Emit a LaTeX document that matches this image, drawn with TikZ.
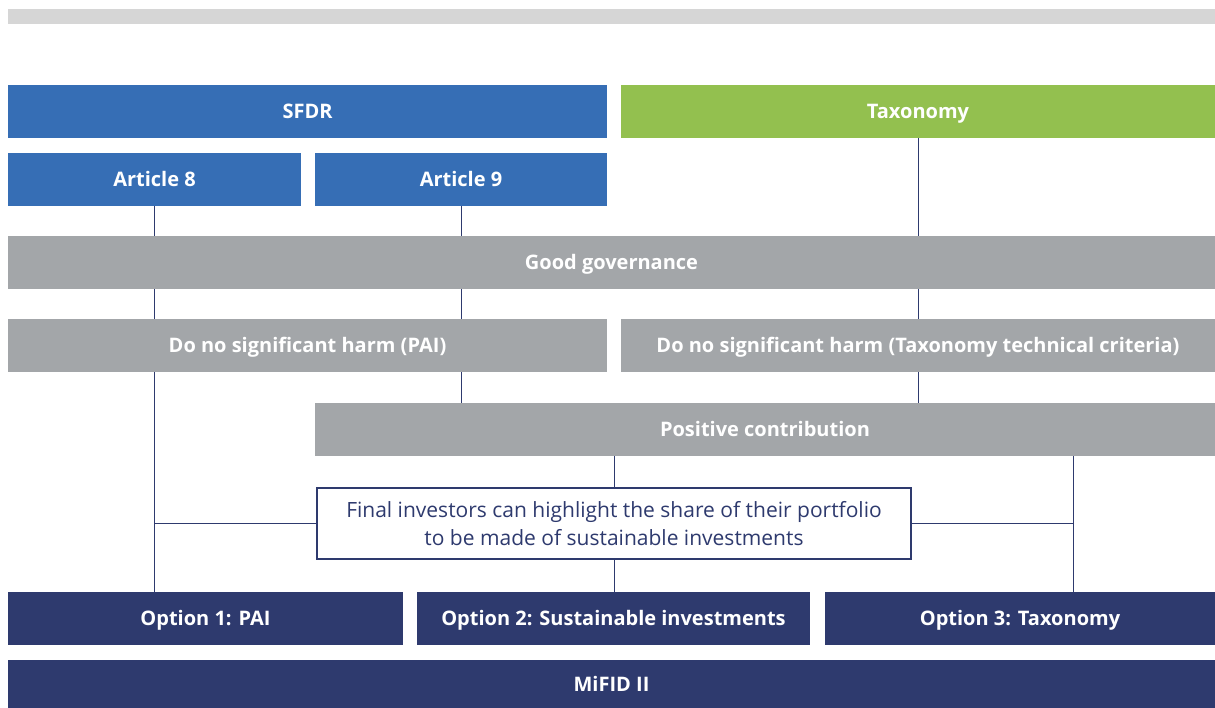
\documentclass[tikz,border=0pt]{standalone}
\usepackage{fontspec}
\setmainfont{Open Sans}
\usetikzlibrary{positioning,calc,backgrounds}
\definecolor{sfdrblue}{RGB}{54,110,181}
\definecolor{taxgreen}{RGB}{147,192,79}
\definecolor{govgrey}{RGB}{163,166,169}
\definecolor{mifidnavy}{RGB}{46,58,110}
\definecolor{topgrey}{RGB}{214,214,214}

\tikzset{
  box/.style={rectangle, inner sep=0pt, minimum height=53pt, text=white,
    text height=14.3pt, text depth=0pt,
    font=\fontsize{20}{24}\selectfont\bfseries},
  bluebox/.style={box, fill=sfdrblue},
  greenbox/.style={box, fill=taxgreen},
  greybox/.style={box, fill=govgrey},
  navybox/.style={box, fill=mifidnavy},
  link/.style={draw=mifidnavy, line width=1pt}
}

\begin{document}
\begin{tikzpicture}[x=1pt,y=-1pt]
\useasboundingbox (0,0) rectangle (1215,708);
\fill[topgrey] (8,9) rectangle (1215,24);
% regulations
\node[bluebox, minimum width=599pt] (sfdr) at (307.5,111.5) {SFDR};
\node[greenbox, minimum width=594pt] (taxonomy) at (918,111.5) {Taxonomy};
\node[bluebox, minimum width=293pt] (art8) at (154.5,179.5) {Article 8};
\node[bluebox, minimum width=292pt] (art9) at (461,179.5) {Article 9};
% criteria
\node[greybox, minimum width=1207pt] (gov) at (611.5,262.5) {Good governance};
\node[greybox, minimum width=599pt] (dnshpai) at (307.5,345.5) {Do no significant harm (PAI)};
\node[greybox, minimum width=594pt] (dnshtax) at (918,345.5) {Do no significant harm (Taxonomy technical criteria)};
\node[greybox, minimum width=900pt] (poscon) at (765,429.5) {Positive contribution};
\node[draw=mifidnavy, line width=2pt, fill=white, minimum width=594pt, minimum height=71pt,
  align=center, text=mifidnavy, font=\fontsize{21}{28}\selectfont] (final) at (614,523.5)
  {Final investors can highlight the share of their portfolio\\to be made of sustainable investments};
% options
\node[navybox, minimum width=395pt] (opt1) at (205.5,618.5) {Option 1: PAI};
\node[navybox, minimum width=393pt] (opt2) at (613.5,618.5) {Option 2: Sustainable investments};
\node[navybox, minimum width=390pt] (opt3) at (1020,618.5) {Option 3: Taxonomy};
\node[navybox, minimum width=1207pt, minimum height=48pt] (mifid) at (611.5,684) {MiFID II};
\coordinate (taxline) at (1073,523.5);

\begin{scope}[on background layer]
\draw[link] (art8.south) -- (art8.south |- opt1.north);
\draw[link] (art9.south) -- (art9.south |- poscon.north);
\draw[link] (taxonomy.south) -- (taxonomy.south |- poscon.north);
\draw[link] (final.west) -- (final.west -| art8.south);
\draw[link] (poscon.south -| final.north) -- (final.north);
\draw[link] (final.south) -- (final.south |- opt2.north);
\draw[link] (final.east) -- (taxline);
\draw[link] (poscon.south -| taxline) -- (opt3.north -| taxline);
\end{scope}
\end{tikzpicture}
\end{document}
